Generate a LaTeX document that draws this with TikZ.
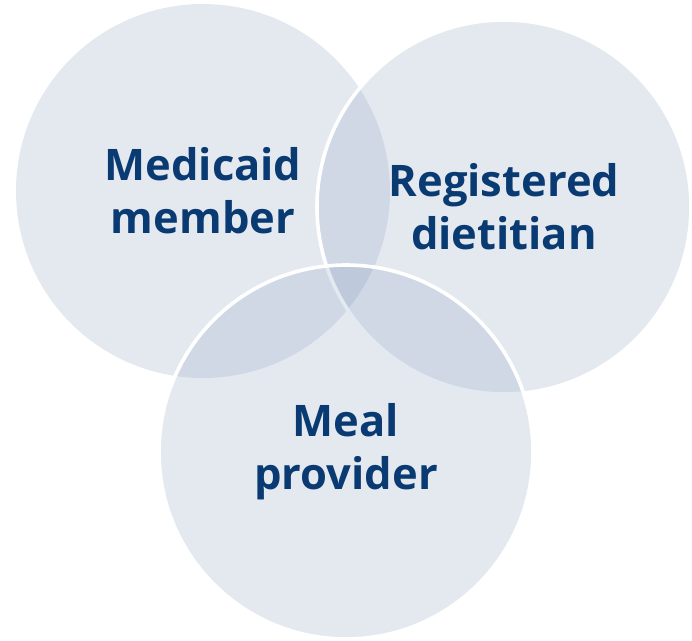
\documentclass[tikz,border=0pt]{standalone}
\usepackage{fontspec}
\setmainfont{Open Sans}
\definecolor{venntint}{HTML}{849BBB}
\definecolor{venntext}{HTML}{0A3A72}

\begin{document}
\begin{tikzpicture}[
  x=1pt,
  y=-1pt,
  set/.style={fill=venntint,fill opacity=0.22,draw=none},
  rim/.style={fill=venntint,fill opacity=0.22,draw=white,draw opacity=1,line width=3.6pt},
  setname/.style={text=venntext,align=center,inner sep=0pt,
    font=\bfseries\fontsize{43.5}{53}\selectfont}
]
  \useasboundingbox (0,0) rectangle (692,640);

  % Centres of the three sets; all share one radius.
  \coordinate (member) at (203,191);
  \coordinate (dietitian) at (504,207);
  \coordinate (provider) at (346,452);

  % The first set has no rim; the later two carry a white rim over the earlier ones.
  \path[set] (member) circle[radius=187pt];
  \path[rim] (dietitian) circle[radius=187pt];
  \path[rim] (provider) circle[radius=187pt];

  \node[setname] (membername) at (member) {Medicaid\\member};
  \node[setname] (dietitianname) at (dietitian) {Registered\\dietitian};
  \node[setname] (providername) at (provider) {Meal\\provider};
\end{tikzpicture}
\end{document}
